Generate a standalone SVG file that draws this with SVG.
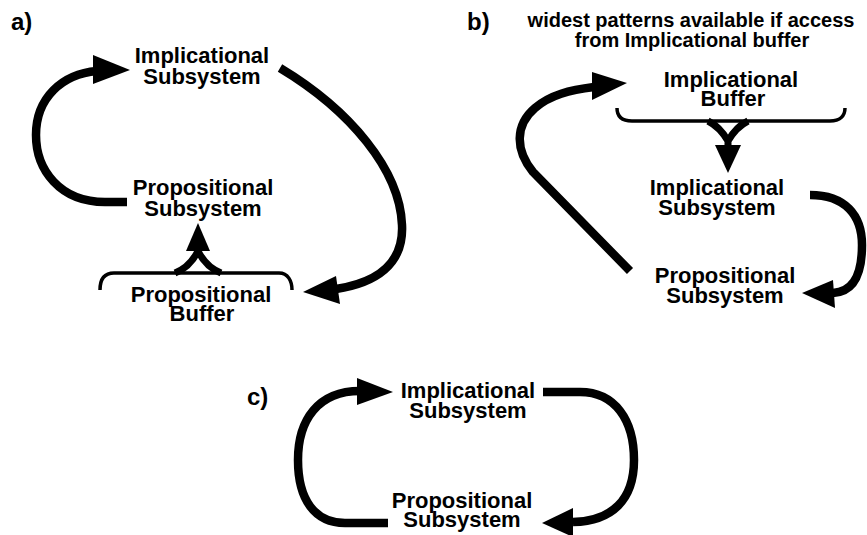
<svg xmlns="http://www.w3.org/2000/svg" width="867" height="535" viewBox="0 0 867 535">
<style>
text{font-family:"Liberation Sans",Arial,Helvetica,sans-serif;font-weight:bold;fill:#000}
.n{font-size:22px;text-anchor:middle}
.h{font-size:20px;text-anchor:middle}
.p{font-size:24px}
.arc{fill:none;stroke:#000;stroke-width:8.5}
.br{fill:none;stroke:#000;stroke-width:3.5}
.fk{fill:none;stroke:#000;stroke-width:7}
.hd{fill:#000;stroke:none}
</style>
<rect width="867" height="535" fill="#fff"/>
<text class="p" x="11" y="30">a)</text>
<text class="p" x="467" y="30">b)</text>
<text class="p" x="247" y="405">c)</text>
<g id="b-header">
<text class="h" x="691" y="27">widest patterns available if access</text>
<text class="h" x="692" y="47">from Implicational buffer</text>
</g>
<g id="a-implicational-subsystem">
<text class="n" x="202" y="63">Implicational</text>
<text class="n" x="202" y="84">Subsystem</text>
</g>
<g id="a-propositional-subsystem">
<text class="n" x="203" y="195">Propositional</text>
<text class="n" x="203" y="216">Subsystem</text>
</g>
<g id="a-propositional-buffer">
<text class="n" x="201" y="302">Propositional</text>
<text class="n" x="202" y="321">Buffer</text>
<path class="br" d="M100,290 C100,280 104,273 114,273 L279,273 C288,273 292,281 292,290"/>
</g>
<g id="b-implicational-buffer">
<text class="n" x="731" y="87">Implicational</text>
<text class="n" x="733" y="106">Buffer</text>
<path class="br" d="M617,108 C617,117 622,121 632,121 L830,121 C840,121 845,116 845,108"/>
</g>
<g id="b-implicational-subsystem">
<text class="n" x="717" y="195">Implicational</text>
<text class="n" x="717" y="215">Subsystem</text>
</g>
<g id="b-propositional-subsystem">
<text class="n" x="725" y="283">Propositional</text>
<text class="n" x="725" y="303">Subsystem</text>
</g>
<g id="c-implicational-subsystem">
<text class="n" x="468" y="398">Implicational</text>
<text class="n" x="468" y="418">Subsystem</text>
</g>
<g id="c-propositional-subsystem">
<text class="n" x="462" y="508">Propositional</text>
<text class="n" x="462" y="527">Subsystem</text>
</g>
<g id="connectors">
<path class="arc" d="M127,202 L105,202 C60,202 36,170 36,135 C36,98 62,74 97,71"/>
<polygon class="hd" points="130,70 93,55 93,84"/>
<path class="arc" d="M280,68 C350,110 400,170 402,225 C404,265 375,283 336,289"/>
<polygon class="hd" points="303,292 336,276 340,304"/>
<path class="fk" d="M175,273 Q190,267 198,251 M221,273 Q206,267 198,251"/>
<polygon class="hd" points="198,223 186,251 210,251"/>
<path class="arc" d="M630,271 L533,172 C515,150 515,125 535,108 C550,95 570,90 594,87"/>
<polygon class="hd" points="627,83 592,72 592,100"/>
<path class="arc" d="M810,195 C845,195 862,215 862,245 C862,280 850,292 833,293"/>
<polygon class="hd" points="802,293 833,280 835,308"/>
<path class="fk" d="M708,121 Q720,127 728,141 M748,121 Q736,127 728,141 M728,139 L728,148"/>
<polygon class="hd" points="728,173 715,145 741,145"/>
<path class="arc" d="M388,523 L345,523 C315,523 298,500 298,460 C298,420 318,391 360,391"/>
<polygon class="hd" points="393,392 357,378 357,405"/>
<path class="arc" d="M543,392 L580,392 C615,392 634,420 634,460 C634,500 612,521 573,522"/>
<polygon class="hd" points="542,523 573,508 573,537"/>
</g>
</svg>
